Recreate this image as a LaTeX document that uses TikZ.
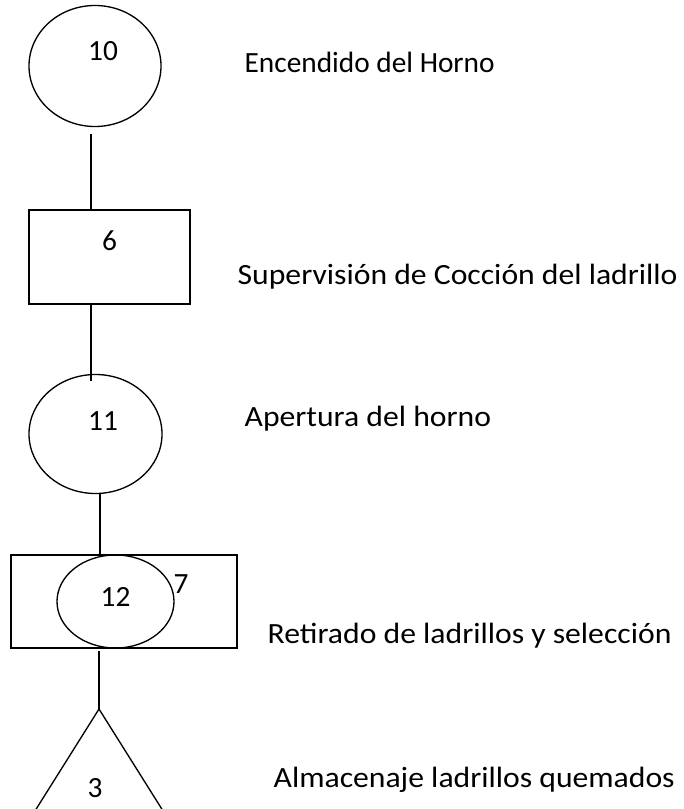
\documentclass[tikz,border=0pt]{standalone}
\usepackage{fontspec}
\setmainfont{Carlito}
\newfontfamily\widefont[FakeStretch=1.08]{Carlito}
\usetikzlibrary{shapes.geometric}

\begin{document}
\begin{tikzpicture}[x=0.75pt,y=-0.75pt,line width=1pt,
	oper/.style={shape=ellipse,draw=black,inner sep=0pt},
	insp/.style={shape=rectangle,draw=black,inner sep=0pt},
	num/.style={anchor=base,inner sep=0pt,font=\fontsize{22}{26}\selectfont},
	desc/.style={anchor=base west,inner sep=0pt,font=\widefont\fontsize{22}{26}\selectfont}]
	
	\useasboundingbox (0,0) rectangle (683,809);
	\clip (0,0) rectangle (683,809);
	
	\node[oper,minimum width=99pt,minimum height=90.75pt]    (o10) at (95,66)      {};
	\node[insp,minimum width=120.75pt,minimum height=70.5pt] (r6)  at (109.5,257)  {};
	\node[oper,minimum width=99.75pt,minimum height=89.25pt] (o11) at (95.5,434)   {};
	\node[insp,minimum width=169.5pt,minimum height=69.75pt] (r7)  at (124,601.5)  {};
	\node[oper,minimum width=87.75pt,minimum height=69.75pt] (o12) at (115.5,601.5) {};
	\coordinate (t3) at (99,709);
	\draw (t3) ++(-76,121) -- (t3) -- ++(76,121);
	
	\node[num] (n10) at (103,61)    {10};
	\node[num] (n6)  at (109.5,250) {6};
	\node[num] (n11) at (103,430)   {11};
	\node[num] (n12) at (115.5,606) {12};
	\node[num] (n7)  at (181,593)   {7};
	\node[num] (n3)  at (95,797)    {3};
	
	\draw ([xshift=-3pt,yshift=-5pt]o10.south) -- ([xshift=-3pt]o10.south |- r6.north);
	\draw ([xshift=-3.4pt]o11.north |- r6.south) -- ([xshift=-3.4pt,yshift=-5pt]o11.north);
	\draw ([xshift=3.4pt]o11.south) -- ([xshift=3.4pt]o11.south |- r7.north);
	\draw ([yshift=-2pt]t3 |- r7.south) -- (t3);
	
	\node[desc,font=\rmfamily\fontsize{22}{26}\selectfont] (l10) at (244,73) {Encendido del Horno};
	\node[desc] (l6)  at (237,284) {Supervisión de Cocción del ladrillo};
	\node[desc] (l11) at (244,426) {Apertura del horno};
	\node[desc] (l7)  at (267,643) {Retirado de ladrillos y selección};
	\node[desc] (l3)  at (273,787) {Almacenaje ladrillos quemados};
	
\end{tikzpicture}
\end{document}
